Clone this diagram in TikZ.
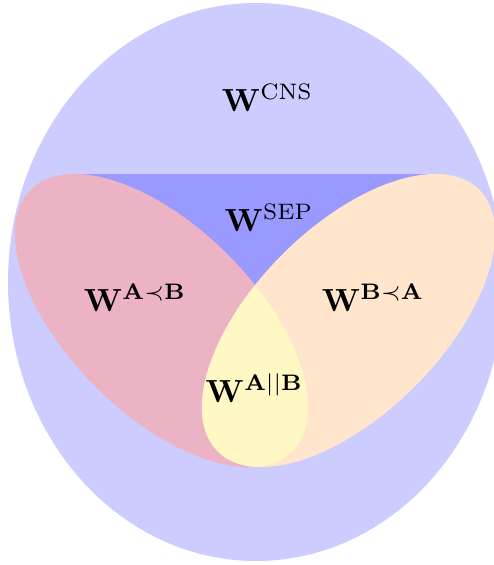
\documentclass[tikz,border=0pt]{standalone}
\definecolor{cnsblue}{RGB}{204,204,255}
\definecolor{sepblue}{RGB}{153,153,255}
\definecolor{pinkA}{RGB}{236,179,197}
\definecolor{peachB}{RGB}{255,229,204}
\definecolor{yellowAB}{RGB}{255,248,197}
\begin{document}
\begin{tikzpicture}[x=1pt,y=-1pt,
  lbl/.style={scale=3.2, transform shape, anchor=base, inner sep=0pt},
  pinkshape/.style={shift={(161.5,320.5)}, rotate=-45},
  peachshape/.style={shift={(348.5,320.5)}, rotate=45}]
\useasboundingbox (0,0) rectangle (494,565);
\clip (0,0) rectangle (494,565);
\fill[cnsblue] (256,282) ellipse [x radius=248pt, y radius=279pt];
\fill[sepblue] (75,174) -- (435,174) -- (255,300) -- cycle;
\fill[pinkA, pinkshape] (0,0) ellipse [x radius=185pt, y radius=93.5pt];
\fill[peachB, peachshape] (0,0) ellipse [x radius=185pt, y radius=93.5pt];
\begin{scope}
  \clip[pinkshape] (0,0) ellipse [x radius=185pt, y radius=93.5pt];
  \fill[yellowAB, peachshape] (0,0) ellipse [x radius=185pt, y radius=93.5pt];
\end{scope}
\node[lbl] (cns) at (267.5,111) {$\mathbf{W}^{\mathrm{CNS}}$};
\node[lbl] (sep) at (269,231) {$\mathbf{W}^{\mathrm{SEP}}$};
\node[lbl] (ab) at (135,311) {$\mathbf{W}^{\mathbf{A}\prec\mathbf{B}}$};
\node[lbl] (ba) at (373,311) {$\mathbf{W}^{\mathbf{B}\prec\mathbf{A}}$};
\node[lbl] (par) at (254.5,402) {$\mathbf{W}^{\mathbf{A}||\mathbf{B}}$};
\end{tikzpicture}
\end{document}
